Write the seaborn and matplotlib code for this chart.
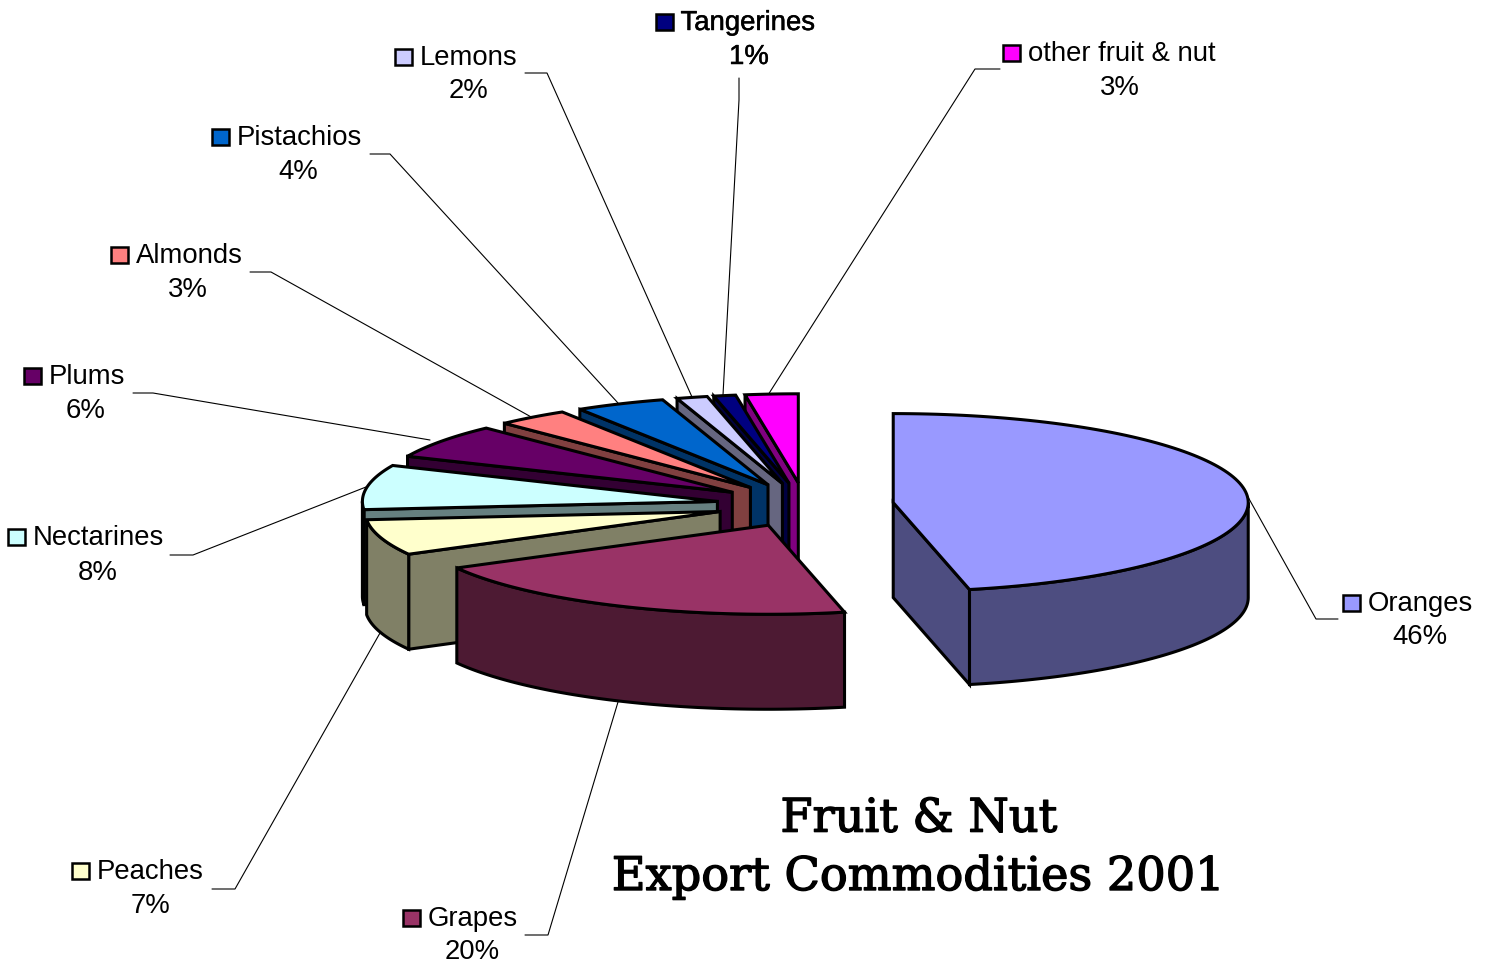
import numpy as np
import matplotlib
matplotlib.use("Agg")
import matplotlib.pyplot as plt
import matplotlib.patheffects as pe
from matplotlib.patches import Rectangle
import seaborn as sns

# ---- data -------------------------------------------------------------
commodities = ["Oranges", "Grapes", "Peaches", "Nectarines", "Plums",
               "Almonds", "Pistachios", "Lemons", "Tangerines", "other fruit & nut"]
shares = [46.6, 20.5, 6.5, 8.1, 6.2, 3.3, 4.1, 1.4, 1.0, 2.4]
share_labels = ["46%", "20%", "7%", "8%", "6%", "3%", "4%", "2%", "1%", "3%"]
slice_colors = ["#9999FF", "#993366", "#FFFFCC", "#CCFFFF", "#660066",
                "#FF8080", "#0066CC", "#CCCCFF", "#000080", "#FF00FF"]
title_lines = ["Fruit & Nut", "Export Commodities 2001"]

# ---- layout ------------------------------------------------------------
CX, CY = 805, 505      # pie centre
RX, RY = 355, 89       # ellipse radii of the tilted disc
DEPTH = 95             # extrusion
EXPLODE = 0.25
key_pos = [(1352, 603), (412, 918), (81, 871), (17, 537), (33, 376),
           (120, 255), (221, 137), (404, 57), (665, 22), (1012, 53)]
pct_pos = [(1420, 637), (472, 952), (150, 906), (98, 573), (86, 411),
           (188, 290), (298, 172), (468, 91), (749, 57), (1120, 88)]
leaders = [[(1248, 497), (1316, 619), (1338, 619)],
           [(618, 702), (548, 935), (525, 935)],
           [(380, 633), (235, 889), (212, 889)],
           [(366, 487), (193, 555), (170, 555)],
           [(430, 440), (153, 393), (133, 393)],
           [(533, 418), (271, 272), (250, 272)],
           [(618, 403), (390, 154), (370, 154)],
           [(692, 397), (547, 73), (525, 73)],
           [(723, 395), (739, 100), (739, 78)],
           [(768, 395), (975, 69), (1000, 69)]]

sns.set_theme(style="white")
plt.rcParams["font.family"] = ["Liberation Sans", "DejaVu Sans"]
palette = sns.color_palette(slice_colors)

fig = plt.figure(figsize=(14.92, 9.65), dpi=100, facecolor="white")
ax = fig.add_axes([0, 0, 1, 1])
ax.set_xlim(0, 1492)
ax.set_ylim(965, 0)
ax.axis("off")

edge = dict(edgecolor="black", linewidth=2.2, joinstyle="miter")


def pt(theta_deg, ox, oy):
    t = np.radians(theta_deg)
    return ox + RX * np.sin(t), oy - RY * np.cos(t)


def draw_slice(a0, a1, top, side):
    mid = np.radians((a0 + a1) / 2)
    ox = CX + EXPLODE * RX * np.sin(mid)
    oy = CY - EXPLODE * RY * np.cos(mid)
    # radial cut faces that look towards the viewer
    for ang, visible in ((a0, a0 > 180), (a1, a1 < 180)):
        if visible:
            ex, ey = pt(ang, ox, oy)
            ax.fill([ox, ex, ex, ox], [oy, ey, ey + DEPTH, oy + DEPTH],
                    facecolor=side, **edge)
    # outer wall
    w0, w1 = max(a0, 90), min(a1, 270)
    if w1 > w0:
        th = np.linspace(w0, w1, 80)
        xs, ys = pt(th, ox, oy)
        ax.fill(np.r_[xs, xs[::-1]], np.r_[ys, ys[::-1] + DEPTH],
                facecolor=side, **edge)
    # top
    th = np.linspace(a0, a1, 120)
    xs, ys = pt(th, ox, oy)
    ax.fill(np.r_[ox, xs], np.r_[oy, ys], facecolor=top, **edge)


# leader lines go underneath the pie
for pts in leaders:
    lx, ly = zip(*pts)
    ax.plot(lx, ly, color="black", lw=0.8, solid_joinstyle="miter", zorder=0.5)

total = sum(shares)
bounds = np.r_[0, np.cumsum(shares)] / total * 360
# paint from the back of the pie to the front
order = [9, 8, 7, 6, 5, 4, 3, 2, 1, 0]
for i in order:
    top = np.array(palette[i])
    draw_slice(bounds[i], bounds[i + 1], tuple(top), tuple(top * 0.5))

# labels with colour keys
for i, name in enumerate(commodities):
    kx, ky = key_pos[i]
    ax.add_patch(Rectangle((kx - 9, ky - 8.5), 16.5, 16.5, facecolor=palette[i],
                           edgecolor="black", linewidth=1.8, zorder=5))
    effects = [pe.withStroke(linewidth=0.35, foreground="black")] if name == "Tangerines" else None
    ax.text(kx + 15.5, ky + 1, name, fontsize=19.8, color="black", ha="left",
            va="center", path_effects=effects, zorder=5)
    ax.text(*pct_pos[i], share_labels[i], fontsize=19.8, color="black",
            ha="center", va="center", path_effects=effects, zorder=5)

# title
heavy = [pe.withStroke(linewidth=1.0, foreground="black")]
ax.text(919, 819, title_lines[0], family="DejaVu Serif", fontsize=33.3,
        ha="center", va="center", color="black", path_effects=heavy)
ax.text(918, 877, title_lines[1], family="DejaVu Serif", fontsize=33.3,
        ha="center", va="center", color="black", path_effects=heavy)

fig.savefig("out.png", dpi=100, facecolor="white")
